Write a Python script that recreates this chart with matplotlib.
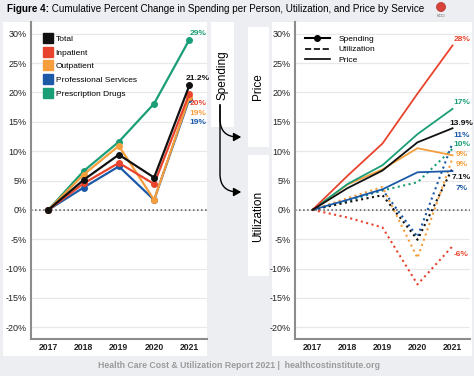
import matplotlib
matplotlib.use("Agg")
import matplotlib.pyplot as plt
from matplotlib.lines import Line2D
from matplotlib.patches import Rectangle, FancyArrowPatch, Ellipse

plt.rcParams['font.family'] = ['Liberation Sans', 'DejaVu Sans']

# ---- data (cumulative % change vs 2017) ----
years = [2017, 2018, 2019, 2020, 2021]
services = ["Total", "Inpatient", "Outpatient", "Professional Services", "Prescription Drugs"]
colors = ["#111111", "#e8442d", "#f59e3b", "#1c5aa8", "#1a9e77"]

spend_total = [0, 5.1, 9.4, 5.5, 21.2]
spend_inpatient = [0, 4.5, 8.0, 4.4, 19.8]
spend_outpatient = [0, 6.0, 10.9, 1.7, 19.2]
spend_professional = [0, 3.8, 7.4, 1.7, 18.9]
spend_rx = [0, 6.6, 11.6, 18.1, 29.0]

price_total = [0, 3.7, 6.7, 11.5, 13.9]
price_inpatient = [0, 5.8, 11.3, 19.8, 28.0]
price_outpatient = [0, 4.3, 6.9, 10.5, 9.3]
price_professional = [0, 1.7, 3.5, 6.4, 6.6]
price_rx = [0, 4.4, 7.6, 12.9, 17.2]

util_total = [0, 1.3, 2.5, -5.1, 7.1]
util_inpatient = [0, -1.3, -3.0, -12.7, -6.2]
util_outpatient = [0, 2.0, 3.9, -8.2, 8.8]
util_professional = [0, 1.7, 3.4, -4.6, 11.4]
util_rx = [0, 1.5, 3.3, 4.7, 10.4]

spending = [spend_total, spend_inpatient, spend_outpatient, spend_professional, spend_rx]
price = [price_total, price_inpatient, price_outpatient, price_professional, price_rx]
utilization = [util_total, util_inpatient, util_outpatient, util_professional, util_rx]

# end labels: (text, color index, label y)
left_labels = [("29%", 4, 30.0), ("21.2%", 0, 22.3), ("20%", 1, 18.1),
               ("19%", 2, 16.4), ("19%", 3, 14.8)]
right_labels = [("28%", 1, 29.0), ("17%", 4, 18.3), ("13.9%", 0, 14.7),
                ("11%", 3, 12.6), ("10%", 4, 11.1), ("9%", 2, 9.4),
                ("9%", 2, 7.8), ("7.1%", 0, 5.5), ("7%", 3, 3.6), ("-6%", 1, -7.6)]

W, H = 474, 376


def box(x0, y0, x1, y1):
    # pixel box (top-left origin) -> figure fraction rect
    return [x0 / W, 1 - y1 / H, (x1 - x0) / W, (y1 - y0) / H]


def pt(x, y):
    return (x / W, 1 - y / H)


fig = plt.figure(figsize=(W / 100, H / 100), dpi=100)
fig.patch.set_facecolor('#eceef1')

for b in [(3, 22, 207, 356), (272, 22, 472, 356), (211, 22, 234, 127),
          (248, 27, 269, 147), (248, 155, 269, 276)]:
    x, y, w, h = box(*b)
    fig.add_artist(Rectangle((x, y), w, h, transform=fig.transFigure,
                             facecolor='white', edgecolor='none', zorder=-1))

ax1 = fig.add_axes(box(30.7, 22, 207, 339))
ax2 = fig.add_axes(box(295, 22, 470, 339))


def style(ax):
    ax.set_xlim(2016.5, 2021.5)
    ax.set_ylim(-22, 32)
    ticks = list(range(-20, 31, 5))
    ax.set_yticks(ticks)
    ax.set_yticklabels([f"{t}%" for t in ticks])
    ax.set_xticks(years)
    ax.tick_params(length=0, labelsize=6.5, colors='#222222', pad=3)
    for lab in ax.get_xticklabels():
        lab.set_fontweight('bold')
        lab.set_fontsize(6.2)
    ax.yaxis.grid(True, color='#e8e8e8', lw=0.9)
    ax.set_axisbelow(True)
    for s in ['top', 'right']:
        ax.spines[s].set_visible(False)
    for s in ['left', 'bottom']:
        ax.spines[s].set_color('#8c8c8c')
        ax.spines[s].set_linewidth(1.5)
    ax.axhline(0, color='#555555', ls=':', lw=1.1, zorder=1)


style(ax1)
style(ax2)

# left: spending
for i in [4, 3, 2, 1, 0]:
    ax1.plot(years, spending[i], color=colors[i], lw=1.6, marker='o', ms=4, zorder=3)
for txt, ci, yv in left_labels:
    ax1.text(2021.25, yv, txt, color=colors[ci], fontsize=6, fontweight='bold',
             ha='center', va='center')

handles = [Line2D([], [], marker='s', ls='none', color=c, ms=7) for c in colors]
ax1.legend(handles, services, loc='upper left', bbox_to_anchor=(0.057, 0.97),
           frameon=False, fontsize=6, handlelength=1, handletextpad=0.4,
           labelspacing=0.72, borderaxespad=0)

# right: price and utilization
for i in [4, 3, 2, 1, 0]:
    ax2.plot(years, utilization[i], color=colors[i], lw=1.5, ls=':', zorder=3)
for i in [3, 2, 4, 1, 0]:
    ax2.plot(years, price[i], color=colors[i], lw=1.3, zorder=4)
for txt, ci, yv in right_labels:
    ax2.text(2021.26, yv, txt, color=colors[ci], fontsize=6, fontweight='bold',
             ha='center', va='center')

h2 = [Line2D([], [], color='black', lw=1.5, marker='o', ms=4),
      Line2D([], [], color='black', lw=1.2, ls='--'),
      Line2D([], [], color='black', lw=1.2)]
ax2.legend(h2, ["Spending", "Utilization", "Price"], loc='upper left',
           bbox_to_anchor=(0.038, 0.97), frameon=False, fontsize=6,
           handlelength=3, handletextpad=1.0, labelspacing=0.35, borderaxespad=0)

# side labels and arrows
fig.text(*pt(222.5, 75), "Spending", rotation=90, ha='center', va='center', fontsize=8.5)
fig.text(*pt(258.5, 87), "Price", rotation=90, ha='center', va='center', fontsize=8.5)
fig.text(*pt(258.5, 216), "Utilization", rotation=90, ha='center', va='center', fontsize=8.5)
for end_y in [137, 192]:
    fig.add_artist(FancyArrowPatch(pt(220, 102), pt(244, end_y), transform=fig.transFigure,
                                   connectionstyle='angle,angleA=90,angleB=0,rad=18',
                                   arrowstyle='-|>,head_length=0.45,head_width=0.25',
                                   mutation_scale=10, lw=1, color='black'))

# title
t1 = fig.text(*pt(7, 9), "Figure 4:", fontsize=7.1, fontweight='bold', va='center', ha='left')
ax1.annotate(" Cumulative Percent Change in Spending per Person, Utilization, and Price by Service",
             xy=(1, 0), xycoords=t1, va='bottom', ha='left', fontsize=7.1)

# logo
fig.add_artist(Ellipse(pt(441, 7), 9 / W, 9 / H, transform=fig.transFigure,
                       facecolor='#d9443a', edgecolor='#b0302a', lw=0.5))
fig.text(*pt(441, 16), "HCCI", fontsize=2.5, ha='center', va='center', color='#555555')

# footer
fig.text(*pt(239, 366), "Health Care Cost & Utilization Report 2021 |  healthcostinstitute.org",
         ha='center', va='center', fontsize=6.3, fontweight='bold', color='#9b9b9b')

fig.savefig("out.png", dpi=100, facecolor=fig.get_facecolor())
